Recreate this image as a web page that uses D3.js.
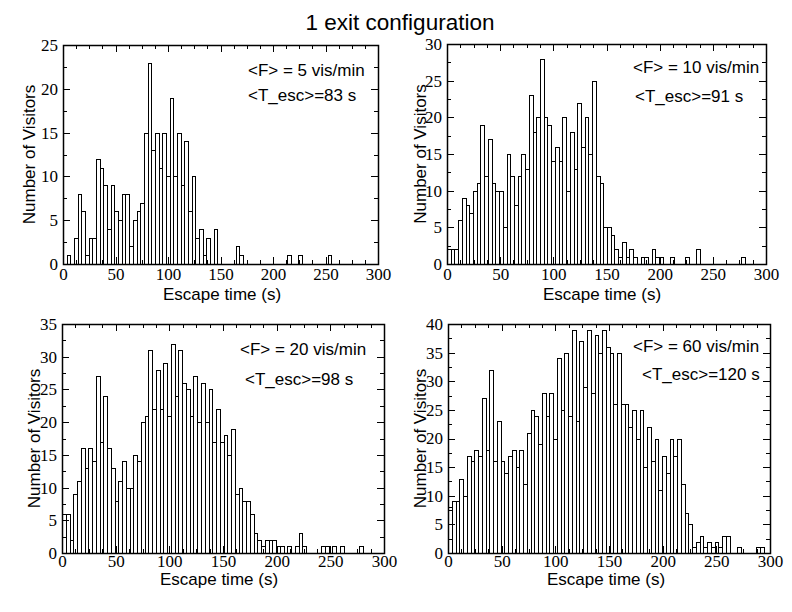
<!DOCTYPE html>
<html><head><meta charset="utf-8">
<script src="https://cdn.jsdelivr.net/npm/d3@7"></script>
<style>body{margin:0;background:#fff}svg{display:block}</style>
</head><body>
<svg id="chart" width="792" height="612"></svg>
<script>
// ---------- data ----------
const titleText = "1 exit configuration";
const binWidth = 3.5; // seconds per histogram bin
const counts5 = [0,1,0,3,8,6,1,3,3,12, 11,9,4,9,6,5,8,8,2,5, 6,7,15,23,13,15,11,15,10,19,
  10,15,9,14,6,10,3,4,1,3, 0,4,0,0,0,0,0,2,1,0, 0,0,0,0,0,0,0,0,0,0, 0,1,0,0,1,0,0,0,0,0, 0,0,1];
const counts10 = [2,2,2,6,9,8,7,10,11,19, 12,17,11,10,10,5,15,12,8,12, 15,13,23,18,20,28,20,19,14,16,
  14,20,10,18,13,22,16,20,15,25, 12,11,5,5,4,2,1,3,1,2, 1,0,1,1,0,2,1,1,0,0, 1,0,0,0,1,0,0,2,0,0,
  0,0,0,0,0,0,0,0,0,1];
const counts20 = [6,6,2,9,11,16,13,16,14,27, 17,24,16,13,8,11,14,10,10,15, 14,20,21,31,22,28,22,29,21,32,
  24,31,26,25,21,27,20,26,20,25, 17,22,17,18,15,19,9,10,8,8, 6,3,2,1,2,2,2,1,1,0, 1,0,1,3,1,0,0,0,0,1,
  1,0,1,0,1,0,0,0,0,1];
const counts60 = [8,9,9,13,10,17,16,18,17,27, 18,32,16,23,16,14,17,18,15,18, 12,21,25,24,19,28,24,28,20,34,
  25,35,24,39,23,37,29,39,28,38, 35,39,36,35,26,35,26,26,22,25, 20,25,15,22,16,20,11,17,14,20,
  17,20,12,7,5,1,2,3,1,2, 1,2,1,3,3,0,0,1,0,0, 0,0,1,1];
const flowLabels = ["<F> = 5 vis/min", "<F> = 10 vis/min", "<F> = 20 vis/min", "<F> = 60 vis/min"];
const escLabels = ["<T_esc>=83 s", "<T_esc>=91 s", "<T_esc>=98 s", "<T_esc>=120 s"];
const yMaxes = [25, 30, 35, 40];
const xMax = 300;
const xTicks = [0, 50, 100, 150, 200, 250, 300];
const xMinorStep = 12.5;
const yMajorStep = 5, yMinorStep = 2.5;
const xLabel = "Escape time (s)";
const yLabel = "Number of Visitors";

// ---------- layout ----------
const allCounts = [counts5, counts10, counts20, counts60];
const frames = [
  {l:63,  r:378, t:45,  b:264, ylX:35,  xlX:222, xlY:300, tp:4, f1:[248,76],  f2:[248,101]},
  {l:447, r:766, t:44,  b:264, ylX:426, xlX:602, xlY:300, tp:4, f1:[633,73],  f2:[635,102]},
  {l:62,  r:384, t:324, b:553, ylX:40,  xlX:219, xlY:585, tp:2, f1:[240,355], f2:[245,385]},
  {l:448, r:770, t:324, b:553, ylX:426, xlX:606, xlY:585, tp:2, f1:[633,352], f2:[642,380]}
];
const sansFont = "'Liberation Sans', Arial, Helvetica, sans-serif";
const serifFont = "'Liberation Serif', 'Times New Roman', serif";

const svg = d3.select("#chart");
svg.append("rect").attr("width",792).attr("height",612).attr("fill","#fff");

svg.append("text").attr("x",400).attr("y",30).attr("text-anchor","middle")
  .attr("font-family",sansFont).attr("font-size",22.5).attr("fill","#000").text(titleText);

const range = (a, b, s) => d3.range(a, b + 1e-9, s);

frames.forEach((f, i) => {
  const counts = allCounts[i];
  const yMax = yMaxes[i];
  const x = d3.scaleLinear().domain([0, xMax]).range([f.l, f.r]);
  const y = d3.scaleLinear().domain([0, yMax]).range([f.b, f.t]);
  const px = v => Math.round(x(v)) + 0.5;
  const py = v => Math.round(y(v)) + 0.5;
  const g = svg.append("g");

  // bars
  const bins = counts.map((c, k) => ({k, c})).filter(d => d.c > 0);
  g.append("g").selectAll("rect").data(bins).join("rect")
    .attr("x", d => px(d.k * binWidth))
    .attr("width", d => px((d.k + 1) * binWidth) - px(d.k * binWidth))
    .attr("y", d => py(d.c))
    .attr("height", d => py(0) - py(d.c))
    .attr("fill", "none").attr("stroke", "#000").attr("stroke-width", 1)
    .attr("shape-rendering", "crispEdges");

  const xMinor = range(0, xMax, xMinorStep).filter(v => v % 50 !== 0);
  const yMajor = range(0, yMax, yMajorStep);
  const yMinor = range(0, yMax, yMinorStep).filter(v => v % yMajorStep !== 0);

  const styleAxis = (sel, labels) => {
    sel.select(".domain").remove();
    sel.selectAll("line").attr("stroke", "#000").attr("stroke-width", 1).attr("shape-rendering", "crispEdges");
    sel.selectAll("text").attr("font-family", serifFont).attr("font-size", 17).attr("fill", "#000");
    if (!labels) sel.selectAll("text").remove();
  };

  // bottom
  g.append("g").attr("transform", `translate(0,${f.b})`)
    .call(d3.axisBottom(x).tickValues(xTicks).tickSize(-7).tickPadding(f.tp).tickFormat(d3.format("d")))
    .call(s => styleAxis(s, true));
  g.append("g").attr("transform", `translate(0,${f.b})`)
    .call(d3.axisBottom(x).tickValues(xMinor).tickSize(-4).tickFormat(""))
    .call(s => styleAxis(s, false));
  // top
  g.append("g").attr("transform", `translate(0,${f.t})`)
    .call(d3.axisTop(x).tickValues(xTicks).tickSize(-7).tickFormat(""))
    .call(s => styleAxis(s, false));
  g.append("g").attr("transform", `translate(0,${f.t})`)
    .call(d3.axisTop(x).tickValues(xMinor).tickSize(-4).tickFormat(""))
    .call(s => styleAxis(s, false));
  // left
  g.append("g").attr("transform", `translate(${f.l},0)`)
    .call(d3.axisLeft(y).tickValues(yMajor).tickSize(-7).tickPadding(5).tickFormat(d3.format("d")))
    .call(s => styleAxis(s, true));
  g.append("g").attr("transform", `translate(${f.l},0)`)
    .call(d3.axisLeft(y).tickValues(yMinor).tickSize(-4).tickFormat(""))
    .call(s => styleAxis(s, false));
  // right
  g.append("g").attr("transform", `translate(${f.r},0)`)
    .call(d3.axisRight(y).tickValues(yMajor).tickSize(-7).tickFormat(""))
    .call(s => styleAxis(s, false));
  g.append("g").attr("transform", `translate(${f.r},0)`)
    .call(d3.axisRight(y).tickValues(yMinor).tickSize(-4).tickFormat(""))
    .call(s => styleAxis(s, false));

  // frame
  g.append("rect").attr("x", px(0)).attr("y", py(yMax))
    .attr("width", px(xMax) - px(0)).attr("height", py(0) - py(yMax))
    .attr("fill", "none").attr("stroke", "#000").attr("stroke-width", 1.5);

  // axis titles
  g.append("text").attr("x", f.xlX).attr("y", f.xlY).attr("text-anchor", "middle")
    .attr("font-family", sansFont).attr("font-size", 17).attr("fill", "#000").text(xLabel);
  g.append("text").attr("transform", `translate(${f.ylX},${(f.t + f.b) / 2}) rotate(-90)`)
    .attr("text-anchor", "middle").attr("font-family", sansFont).attr("font-size", 17)
    .attr("fill", "#000").text(yLabel);

  // annotations
  g.append("text").attr("x", f.f1[0]).attr("y", f.f1[1]).attr("font-family", sansFont)
    .attr("font-size", 17).attr("fill", "#000").text(flowLabels[i]);
  g.append("text").attr("x", f.f2[0]).attr("y", f.f2[1]).attr("font-family", sansFont)
    .attr("font-size", 17).attr("fill", "#000").text(escLabels[i]);
});
</script>
</body></html>
